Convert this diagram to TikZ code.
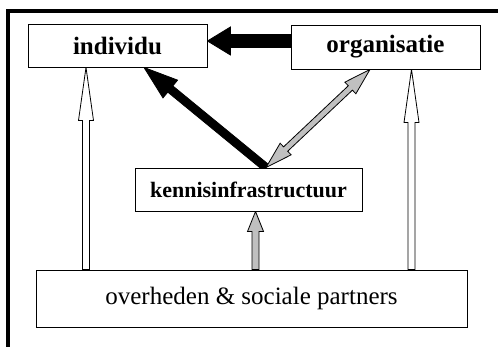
\documentclass[tikz,border=0pt]{standalone}
\usepackage{fontspec}
\setmainfont{Liberation Serif}
\usetikzlibrary{calc}
\pgfdeclarelayer{bg}
\pgfsetlayers{bg,main}
\definecolor{arrowgray}{RGB}{192,192,192}
\tikzset{
  box/.style={draw, fill=white, line width=0.9pt, inner sep=0pt, font=\fontsize{25}{30}\selectfont},
  smallbox/.style={box, font=\fontsize{22}{26}\selectfont\bfseries},
  blackarrow/.style={draw=black, fill=black, line width=0.8pt, line join=miter},
  grayarrow/.style={draw=black, fill=arrowgray, line width=0.8pt, line join=miter},
  openarrow/.style={draw=black, fill=white, line width=0.8pt, line join=miter},
  frameline/.style={line width=3.5pt}
}
% single-headed arrow as outlined polygon: start, tip, half shaft, half head, head length, style
\newcommand\arrowone[6]{%
  \coordinate (ah) at ($(#2)!#5!(#1)$);
  \path[#6] ($(#1)!#3!90:(#2)$) -- ($(ah)!#3!90:(#2)$) -- ($(ah)!#4!90:(#2)$) -- (#2)
    -- ($(ah)!#4!-90:(#2)$) -- ($(ah)!#3!-90:(#2)$) -- ($(#1)!#3!-90:(#2)$) -- cycle;
}
% double-headed arrow
\newcommand\arrowtwo[6]{%
  \coordinate (ahb) at ($(#2)!#5!(#1)$);
  \coordinate (aha) at ($(#1)!#5!(#2)$);
  \path[#6] (#1) -- ($(aha)!#4!90:(#2)$) -- ($(aha)!#3!90:(#2)$) -- ($(ahb)!#3!90:(#2)$)
    -- ($(ahb)!#4!90:(#2)$) -- (#2) -- ($(ahb)!#4!-90:(#2)$) -- ($(ahb)!#3!-90:(#2)$)
    -- ($(aha)!#3!-90:(#2)$) -- ($(aha)!#4!-90:(#2)$) -- cycle;
}
\begin{document}
\begin{tikzpicture}[x=1pt, y=-1pt]
\useasboundingbox (0,0) rectangle (498,347);
\draw[frameline] (8,349) -- (8,11) -- (500,11);

\node[box, minimum width=179pt, minimum height=43pt] (ind) at (117.5,45.5) {\bfseries individu};
\node[box, minimum width=189pt, minimum height=44pt] (org) at (385.5,47) {\bfseries organisatie};
\node[smallbox, minimum width=227pt, minimum height=43pt] (ken) at (248.5,189.5) {kennisinfrastructuur};
\node[box, minimum width=431pt, minimum height=57pt] (ovh) at (251.5,298.5) {overheden \& sociale partners};

% connector end points on the node borders
\coordinate (orgW) at (org.west |- 0,41);
\coordinate (indE) at (ind.east |- 0,41);
\coordinate (kenT) at (266,0 |- ken.north);
\coordinate (indB) at (144,0 |- ind.south);
\coordinate (orgB) at (370,0 |- org.south);
\coordinate (ovhL) at (86,0 |- ovh.north);
\coordinate (indL) at (86,0 |- ind.south);
\coordinate (ovhR) at (411.5,0 |- ovh.north);
\coordinate (orgR) at (411.5,0 |- org.south);
\coordinate (ovhM) at (255.5,0 |- ovh.north);
\coordinate (kenB) at (255.5,0 |- ken.south);

\begin{pgfonlayer}{bg}
\arrowone{orgW}{indE}{6.5pt}{14pt}{23pt}{blackarrow}
\arrowone{kenT}{indB}{4pt}{11.5pt}{34pt}{blackarrow}
\arrowtwo{kenT}{orgB}{3pt}{8pt}{27pt}{grayarrow}
\arrowone{ovhL}{indL}{3.5pt}{7.5pt}{53pt}{openarrow}
\arrowone{ovhR}{orgR}{3.5pt}{7.5pt}{53pt}{openarrow}
\arrowone{ovhM}{kenB}{3.5pt}{8pt}{20pt}{grayarrow}
\end{pgfonlayer}
\end{tikzpicture}
\end{document}
